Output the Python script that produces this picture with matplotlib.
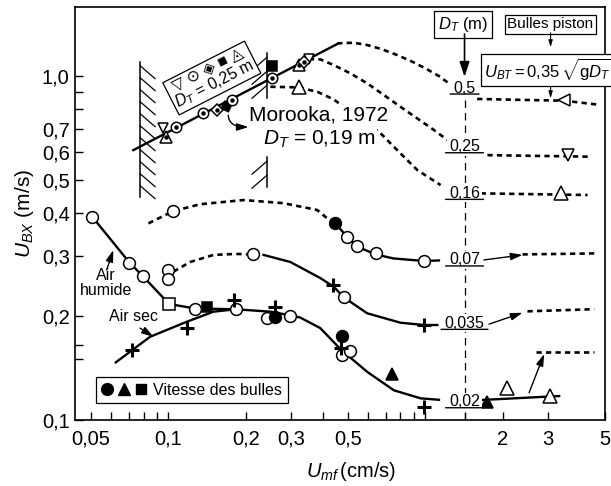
import matplotlib
matplotlib.use('Agg')
import matplotlib.pyplot as plt
from matplotlib.ticker import FixedLocator, FixedFormatter, NullFormatter
from matplotlib.legend_handler import HandlerTuple
from matplotlib.text import OffsetFrom

plt.rcParams['font.family'] = ['Liberation Sans', 'DejaVu Sans']
plt.rcParams['mathtext.fontset'] = 'custom'
plt.rcParams['mathtext.rm'] = 'Liberation Sans'
plt.rcParams['mathtext.it'] = 'Liberation Sans:italic'

# ---- axes ticks ----
x_major = [0.05, 0.1, 0.2, 0.3, 0.5, 2, 3, 5]
x_major_lbl = ['0,05', '0,1', '0,2', '0,3', '0,5', '2', '3', '5']
x_minor = [0.06, 0.07, 0.08, 0.09, 0.4, 0.6, 0.7, 0.8, 0.9, 1.0, 1.42]
y_major = [0.1, 0.2, 0.3, 0.4, 0.5, 0.6, 0.7, 1.0]
y_major_lbl = ['0,1', '0,2', '0,3', '0,4', '0,5', '0,6', '0,7', '1,0']
y_minor = [0.15, 0.165, 0.8, 0.9]

# ---- D_T = 0,25 m straight fit (Morooka) ----
fit25_x = [0.073, 0.4535]
fit25_y = [0.609, 1.239]

# ---- dashed D_T curves ----
dt05_x = [0.4535, 0.526, 0.594, 0.679, 0.777, 0.889, 1.0, 1.129, 1.235]
dt05_y = [1.245, 1.25, 1.231, 1.196, 1.151, 1.101, 1.053, 1.0, 0.952]
dt025_x = [0.352, 0.3904, 0.44, 0.511, 0.594, 0.689, 0.80, 0.93, 1.079, 1.217]
dt025_y = [1.12, 1.118, 1.076, 1.018, 0.952, 0.881, 0.814, 0.753, 0.697, 0.652]
dt016_x = [0.2492, 0.32, 0.38, 0.44, 0.52, 0.60, 0.669, 0.777, 0.93, 1.146]
dt016_y = [0.931, 0.927, 0.90, 0.855, 0.78, 0.725, 0.682, 0.609, 0.533, 0.482]
dt007_dash_x = [0.0836, 0.1046, 0.1329, 0.196, 0.2808, 0.379, 0.4145, 0.4467]
dt007_dash_y = [0.373, 0.405, 0.424, 0.436, 0.427, 0.408, 0.386, 0.373]
dt007_x = [0.4467, 0.50, 0.55, 0.64, 0.75, 0.985, 1.129]
dt007_y = [0.373, 0.338, 0.318, 0.303, 0.295, 0.290, 0.291]
dt0035_dash_x = [0.1046, 0.1215, 0.1497, 0.1836, 0.2126]
dt0035_dash_y = [0.270, 0.288, 0.302, 0.304, 0.303]
dt0035_x = [0.2346, 0.2982, 0.3904, 0.44, 0.4811, 0.5936, 0.8003, 0.9867, 1.113]
dt0035_y = [0.302, 0.288, 0.2585, 0.244, 0.2274, 0.2043, 0.1918, 0.1889, 0.1889]

# slug-flow levels on the right
slug05_x = [1.59, 2.5, 3.47, 4.75]
slug05_y = [0.858, 0.852, 0.848, 0.825]
slug025_x = [1.743, 4.34]
slug025_y = [0.589, 0.583]
slug016_x = [1.641, 4.278]
slug016_y = [0.456, 0.451]
slug007_x = [2.387, 4.539]
slug007_y = [0.303, 0.305]
slug0035_x = [2.496, 4.539]
slug0035_y = [0.207, 0.210]
slug002_x = [2.689, 4.539]
slug002_y = [0.158, 0.158]

# ---- air humide / air sec / D_T = 0,02 ----
humide_x = [0.0505, 0.0705, 0.0795, 0.1006]
humide_y = [0.390, 0.287, 0.262, 0.2174]
low_x = [0.1006, 0.127, 0.15, 0.1836, 0.25, 0.298, 0.326, 0.39, 0.47, 0.594, 0.754, 0.958, 1.129]
low_y = [0.2174, 0.211, 0.2105, 0.2098, 0.2065, 0.2015, 0.1985, 0.185, 0.160, 0.138, 0.122, 0.1156, 0.1145]
sec_x = [0.0624, 0.0849, 0.118, 0.1497, 0.1836]
sec_y = [0.1471, 0.1746, 0.1931, 0.2065, 0.210]
big_x = [1.641, 3.315]
big_y = [0.1143, 0.1174]

# ---- measured points ----
open_circ_x = [0.0505, 0.0705, 0.0795, 0.127, 0.1836, 0.2419, 0.2963,
               0.1, 0.1, 0.2126, 0.4811,
               0.1046, 0.496, 0.543, 0.645, 0.985,
               0.4742, 0.5078]
open_circ_y = [0.390, 0.287, 0.262, 0.2098, 0.2106, 0.1975, 0.2005,
               0.273, 0.2565, 0.303, 0.2274,
               0.405, 0.341, 0.321, 0.305, 0.290,
               0.1545, 0.159]
fill_circ_x = [0.4467, 0.259, 0.4742]
fill_circ_y = [0.373, 0.1996, 0.1754]
fill_tri_x = [0.7382, 1.743]
fill_tri_y = [0.136, 0.1126]
fill_sq_x = [0.1411, 0.253]
fill_sq_y = [0.2135, 1.069]
tilt_sq_x = [0.168]
tilt_sq_y = [0.82]
open_sq_x = [0.1006]
open_sq_y = [0.2174]
plus_x = [0.0724, 0.118, 0.1792, 0.259, 0.4378, 0.9867, 0.47, 0.9867]
plus_y = [0.1597, 0.1855, 0.2233, 0.2125, 0.2469, 0.1889, 0.1616, 0.1093]
open_up_x = [0.3212, 3.366, 2.086, 3.058]
open_up_y = [0.927, 0.456, 0.1236, 0.1174]
open_dn_x = [3.574]
open_dn_y = [0.589]
small_dn_x = [0.0951, 0.352]
small_dn_y = [0.705, 1.12]
open_left_x = [3.467]
open_left_y = [0.852]
dot_circ_x = [0.1072, 0.1369, 0.1767, 0.253]
dot_circ_y = [0.709, 0.779, 0.852, 0.985]
dot_up_x = [0.0979, 0.322]
dot_up_y = [0.663, 1.08]
dot_diam_x = [0.1544, 0.338]
dot_diam_y = [0.796, 1.10]

# ---- labels along the D_T column ----
dt_col_x = 1.42
dt_labels = ['0,5', '0,25', '0,16', '0,07', '0,035', '0,02']
dt_label_y = [0.923, 0.623, 0.456, 0.292, 0.191, 0.113]

# walls (x, top, bottom) around the Morooka data
left_wall = (0.0776, 1.101, 0.446)
right_walls = [(0.2419, 1.165, 0.862), (0.2419, 0.581, 0.476)]

fig = plt.figure(figsize=(6.11, 4.86), dpi=100)
ax = fig.add_axes([0.1232, 0.1358, 0.9902 - 0.1232, 0.986 - 0.1358])
ax.set_xscale('log')
ax.set_yscale('log')
ax.set_xlim(0.0434, 5.0)
ax.set_ylim(0.1, 1.59)

ax.xaxis.set_major_locator(FixedLocator(x_major))
ax.xaxis.set_major_formatter(FixedFormatter(x_major_lbl))
ax.xaxis.set_minor_locator(FixedLocator(x_minor))
ax.xaxis.set_minor_formatter(NullFormatter())
ax.yaxis.set_major_locator(FixedLocator(y_major))
ax.yaxis.set_major_formatter(FixedFormatter(y_major_lbl))
ax.yaxis.set_minor_locator(FixedLocator(y_minor))
ax.yaxis.set_minor_formatter(NullFormatter())
ax.tick_params(which='both', direction='in', length=6, width=1.0,
               top=False, right=False, labelsize=14.5)
ax.tick_params(axis='x', which='both', pad=7)
ax.tick_params(axis='y', which='both', pad=4)
for s in ax.spines.values():
    s.set_linewidth(1.2)

ax.set_xlabel('$U_{mf}\\,$(cm/s)', fontsize=14.5)
ax.xaxis.set_label_coords(0.52, -0.097)
ax.set_ylabel('$U_{BX}$ (m/s)', fontsize=15, labelpad=4)

solid = dict(color='k', lw=1.7, zorder=2)
dashed = dict(color='k', lw=1.9, ls=(0, (2.0, 1.6)), zorder=2)

# hatched walls, hatches laid out in pixels
to_disp = ax.transData
to_data = ax.transData.inverted()


def hatched_wall(x, y_top, y_bot, side, step, first):
    ax.plot([x, x], [y_top, y_bot], color='k', lw=1.1)
    xd, yt = to_disp.transform((x, y_top))
    _, yb = to_disp.transform((x, y_bot))
    yd = yt - first
    while yd - 13 >= yb - 3:
        seg = to_data.transform([(xd, yd), (xd + side * 15, yd - 13)])
        ax.plot(seg[:, 0], seg[:, 1], color='k', lw=0.9)
        yd -= step


hatched_wall(*left_wall, side=1, step=12, first=4)
for w in right_walls:
    hatched_wall(*w, side=-1, step=14, first=4)

ax.plot(fit25_x, fit25_y, **solid)
ax.plot(dt05_x, dt05_y, **dashed)
ax.plot(dt025_x, dt025_y, **dashed)
ax.plot(dt016_x, dt016_y, **dashed)
ax.plot(dt007_dash_x, dt007_dash_y, **dashed)
ax.plot(dt007_x, dt007_y, **solid)
ax.plot(dt0035_dash_x, dt0035_dash_y, **dashed)
ax.plot(dt0035_x, dt0035_y, **solid)
for xs, ys in [(slug05_x, slug05_y), (slug025_x, slug025_y), (slug016_x, slug016_y),
               (slug007_x, slug007_y), (slug0035_x, slug0035_y), (slug002_x, slug002_y)]:
    ax.plot(xs, ys, **dashed)
ax.plot(humide_x, humide_y, **solid)
ax.plot(low_x, low_y, **solid)
ax.plot(sec_x, sec_y, **solid)
ax.plot(big_x, big_y, **solid)

# vertical D_T column
ax.plot([dt_col_x, dt_col_x], [0.1, 0.87], color='k', lw=0.9,
        ls=(0, (6, 4)), zorder=1)


def mark(xs, ys, m, ms, filled=False, dot=False, mew=1.1):
    ax.plot(xs, ys, ls='none', marker=m, ms=ms, mec='k',
            mfc='k' if filled else 'white', mew=mew, zorder=5)
    if dot:
        ax.plot(xs, ys, ls='none', marker='o', ms=2.2, color='k', zorder=6)


mark(open_circ_x, open_circ_y, 'o', 8.5)
mark(fill_circ_x, fill_circ_y, 'o', 8.5, filled=True)
mark(fill_tri_x, fill_tri_y, '^', 8.5, filled=True)
mark(fill_sq_x, fill_sq_y, 's', 7, filled=True)
mark(tilt_sq_x, tilt_sq_y, (4, 0, 20), 8, filled=True)
mark(open_sq_x, open_sq_y, 's', 8)
mark(plus_x, plus_y, '+', 10, mew=2.2)
mark(open_up_x, open_up_y, '^', 10)
mark(open_dn_x, open_dn_y, 'v', 9)
mark(small_dn_x, small_dn_y, 'v', 7.5)
mark(open_left_x, open_left_y, '<', 9)
mark(dot_circ_x, dot_circ_y, 'o', 7.5, dot=True)
mark(dot_up_x, dot_up_y, '^', 8, dot=True)
mark(dot_diam_x, dot_diam_y, 'D', 6.5, dot=True)

# D_T values along the column, underlined
for lbl, yv in zip(dt_labels, dt_label_y):
    t = ax.text(dt_col_x, yv, lbl, fontsize=11.5, ha='center', va='center', zorder=7,
                bbox=dict(boxstyle='square,pad=0.1', fc='white', ec='none'))
    ax.annotate('', xy=(-2.5, 0), xycoords=OffsetFrom(t, (0, 0.1), unit='points'),
                xytext=(2.5, 0), textcoords=OffsetFrom(t, (1, 0.1), unit='points'),
                arrowprops=dict(arrowstyle='-', lw=1.0, color='k', shrinkA=0, shrinkB=0),
                zorder=7)

head = '-|>,head_length=0.7,head_width=0.22'
arrow_links = [((1.69, 0.292), (2.387, 0.302)),
               ((1.769, 0.190), (2.387, 0.205)),
               ((2.532, 0.120), (2.897, 0.1555)),
               ((0.0575, 0.273), (0.061, 0.312)),
               ((0.0776, 0.185), (0.0874, 0.1746))]
for tail, tip in arrow_links:
    ax.annotate('', xy=tip, xytext=tail,
                arrowprops=dict(arrowstyle=head, color='k', lw=1.0, shrinkA=0, shrinkB=0))

# Morooka annotation
ax.annotate('', xy=(0.205, 0.711), xytext=(0.171, 0.770),
            arrowprops=dict(arrowstyle=head, color='k', lw=1.0, shrinkA=0, shrinkB=0,
                            connectionstyle='angle3,angleA=90,angleB=0'))
ax.text(0.3834, 0.770, 'Morooka, 1972', fontsize=15, ha='center', va='center', zorder=4,
        bbox=dict(boxstyle='square,pad=0.05', fc='white', ec='none'))
ax.text(0.386, 0.656, '$D_T$ = 0,19 m', fontsize=15, ha='center', va='center', zorder=4,
        bbox=dict(boxstyle='square,pad=0.05', fc='white', ec='none'))

# tilted key for the D_T = 0,25 m points
ax.text(0.1470, 0.992, '▽ ⊙ ◈ ■ ◬\n$D_T$ = 0,25 m', fontsize=11.5, rotation=27,
        rotation_mode='anchor', ha='center', va='center', multialignment='center',
        linespacing=0.95, zorder=8,
        bbox=dict(boxstyle='square,pad=0.15', fc='white', ec='k', lw=0.9))

# D_T column header and slug-flow boxes
ax.text(1.40, 1.412, '$D_T$ (m)', fontsize=12, ha='center', va='center',
        bbox=dict(boxstyle='square,pad=0.25', fc='white', ec='k', lw=0.9))
ax.annotate('', xy=(1.42, 0.995), xytext=(1.42, 1.325),
            arrowprops=dict(arrowstyle='-|>,head_length=0.9,head_width=0.3', color='k',
                            lw=1.2, shrinkA=0, shrinkB=0))
ax.text(3.064, 1.415, 'Bulles piston', fontsize=11, ha='center', va='center',
        bbox=dict(boxstyle='square,pad=0.15', fc='white', ec='k', lw=0.9))
ax.annotate('', xy=(3.07, 1.213), xytext=(3.07, 1.336),
            arrowprops=dict(arrowstyle='-|>,head_length=0.4,head_width=0.12', color='k',
                            lw=0.8, shrinkA=0, shrinkB=0))
ax.text(3.01, 1.041, '$U_{BT} = 0{,}35\\,\\sqrt{\\mathrm{g}D_T}$', fontsize=12,
        ha='center', va='center', zorder=8,
        bbox=dict(boxstyle='square,pad=0.2', fc='white', ec='k', lw=0.9))
ax.annotate('', xy=(3.07, 0.862), xytext=(3.07, 0.935),
            arrowprops=dict(arrowstyle='-|>,head_length=0.4,head_width=0.12', color='k',
                            lw=0.8, shrinkA=0, shrinkB=0))

# curve names
ax.text(0.0572, 0.250, 'Air\nhumide', fontsize=11.5, ha='center', va='center',
        linespacing=0.95)
ax.text(0.073, 0.1996, 'Air sec', fontsize=11.5, ha='center', va='center')

# bubble-velocity key
h_c, = ax.plot([], [], 'o', color='k', ms=8.5)
h_t, = ax.plot([], [], '^', color='k', ms=8.5)
h_s, = ax.plot([], [], 's', color='k', ms=7.5)
leg = ax.legend([(h_c, h_t, h_s)], ['Vitesse des bulles'],
                handler_map={tuple: HandlerTuple(ndivide=None, pad=0.4)},
                loc='lower left', bbox_to_anchor=(0.04, 0.04), borderaxespad=0,
                fontsize=11.5, frameon=True, fancybox=False, edgecolor='k',
                framealpha=1, borderpad=0.35, handlelength=2.8, handletextpad=0.4)
leg.get_frame().set_linewidth(0.9)

fig.savefig('out.png', dpi=100)
